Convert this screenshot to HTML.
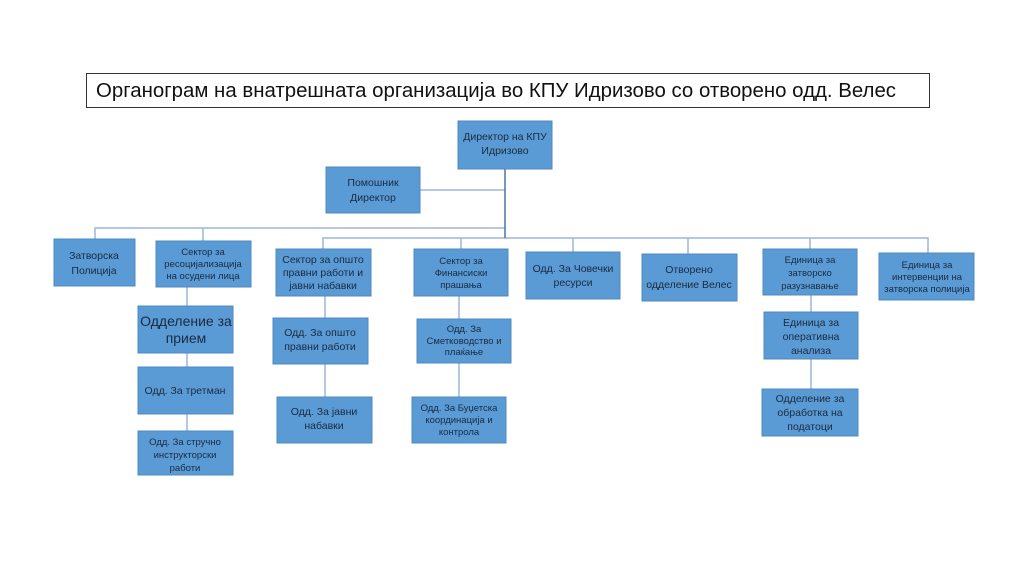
<!DOCTYPE html>
<html><head><meta charset="utf-8"><style>body{margin:0;background:#fff}svg{display:block}</style></head><body>
<svg width="1024" height="576" viewBox="0 0 1024 576" xmlns="http://www.w3.org/2000/svg" font-family="Liberation Sans, sans-serif">
<rect x="86.5" y="73.5" width="843" height="34" fill="#fff" stroke="#333" stroke-width="1"/>
<text x="96" y="97" font-size="20" fill="#111" textLength="800" lengthAdjust="spacingAndGlyphs">Органограм на внатрешната организација во КПУ Идризово со отворено одд. Велес</text>
<g stroke="#9ab6d8" stroke-width="1.5" fill="none">
<line x1="420" y1="190" x2="505" y2="190"/>
<polyline points="95,239 95,228 505,228"/>
<line x1="203" y1="228" x2="203" y2="241"/>
<polyline points="323,249 323,238 928,238 928,253"/>
<line x1="461" y1="238" x2="461" y2="249"/>
<line x1="573" y1="238" x2="573" y2="252"/>
<line x1="688" y1="238" x2="688" y2="254"/>
<line x1="810" y1="238" x2="810" y2="249"/>
<line x1="187" y1="287" x2="187" y2="431"/>
<line x1="325" y1="296" x2="325" y2="397"/>
<line x1="459" y1="296" x2="459" y2="397"/>
<line x1="811" y1="295" x2="811" y2="389"/>
</g>
<line x1="505" y1="169" x2="505" y2="238" stroke="#4a74a8" stroke-width="1.5"/>
<g fill="#5b9bd5" stroke="#4f8ac0" stroke-width="1">
<rect x="458" y="121" width="94" height="48"/>
<rect x="326" y="167" width="94" height="46"/>
<rect x="54" y="239" width="81" height="47"/>
<rect x="156" y="241" width="95" height="46"/>
<rect x="138" y="306" width="95" height="47"/>
<rect x="138" y="367" width="95" height="47"/>
<rect x="138" y="431" width="95" height="44"/>
<rect x="276" y="249" width="95" height="47"/>
<rect x="273" y="318" width="95" height="46"/>
<rect x="277" y="397" width="95" height="46"/>
<rect x="414" y="249" width="94" height="47"/>
<rect x="417" y="319" width="94" height="44"/>
<rect x="412" y="397" width="94" height="46"/>
<rect x="526" y="252" width="94" height="47"/>
<rect x="642" y="254" width="95" height="47"/>
<rect x="763" y="249" width="94" height="46"/>
<rect x="764" y="312" width="94" height="47"/>
<rect x="762" y="389" width="96" height="47"/>
<rect x="879" y="253" width="95" height="47"/>
</g>
<g fill="#1a2a40" text-anchor="middle">
<g font-size="10.5">
<text x="505" y="140">Директор на КПУ</text><text x="505" y="154">Идризово</text>
<text x="373" y="186">Помошник</text><text x="373" y="201">Директор</text>
<text x="94" y="259">Затворска</text><text x="94" y="274">Полиција</text>
<text x="323" y="263">Сектор за општо</text><text x="323" y="276">правни работи и</text><text x="323" y="289">јавни набавки</text>
<text x="320" y="336">Одд. За општо</text><text x="320" y="350">правни работи</text>
<text x="324" y="415">Одд. За јавни</text><text x="324" y="429">набавки</text>
<text x="185" y="394">Одд. За третман</text>
<text x="573" y="272">Одд. За Човечки</text><text x="573" y="286">ресурси</text>
<text x="689" y="273">Отворено</text><text x="689" y="288">одделение Велес</text>
<text x="811" y="326">Единица за</text><text x="811" y="340">оперативна</text><text x="811" y="354">анализа</text>
<text x="810" y="402">Одделение за</text><text x="810" y="416">обработка на</text><text x="810" y="430">податоци</text>
</g>
<g font-size="9.5">
<text x="203" y="255">Сектор за</text><text x="203" y="267">ресоцијализација</text><text x="203" y="279">на осудени лица</text>
<text x="185" y="445">Одд. За стручно</text><text x="185" y="458">инструкторски</text><text x="185" y="471">работи</text>
<text x="461" y="264">Сектор за</text><text x="461" y="276">Финансиски</text><text x="461" y="288">прашања</text>
<text x="464" y="332">Одд. За</text><text x="464" y="344">Сметководство и</text><text x="464" y="355">плаќање</text>
<text x="459" y="411">Одд. За Буџетска</text><text x="459" y="423">координација и</text><text x="459" y="435">контрола</text>
<text x="810" y="263">Единица за</text><text x="810" y="276">затворско</text><text x="810" y="289">разузнавање</text>
<text x="927" y="268">Единица за</text><text x="927" y="280">интервенции на</text><text x="927" y="292">затворска полиција</text>
</g>
<g font-size="14">
<text x="186" y="326">Одделение за</text><text x="186" y="343">прием</text>
</g>
</g>
</svg>
</body></html>
